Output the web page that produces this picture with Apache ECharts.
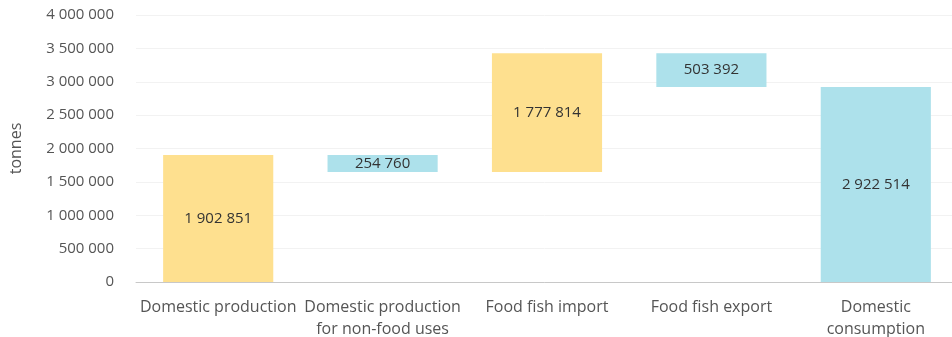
<!DOCTYPE html>
<html>
<head>
<meta charset="utf-8">
<script src="https://cdn.jsdelivr.net/npm/echarts@6/dist/echarts.min.js"></script>
<style>
  html, body { margin: 0; padding: 0; background: #ffffff; }
  #chart { width: 952px; height: 337px; }
</style>
</head>
<body>
<div id="chart"></div>
<script>
// Fish balance, tonnes
const categories = [
  'Domestic production',
  'Domestic production\nfor non-food uses',
  'Food fish import',
  'Food fish export',
  'Domestic\nconsumption'
];
const amounts = [1902851, 254760, 1777814, 503392, 2922514];
// +1 adds to the running total, -1 removes from it, 0 is a total bar from zero
const steps = [1, -1, 1, -1, 0];
const yTicks = { min: 0, max: 4000000, interval: 500000 };

const YELLOW = '#fee08f';
const BLUE = '#ade1eb';

// floating base for each bar of the waterfall
const bases = [];
let running = 0;
amounts.forEach((v, i) => {
  if (steps[i] === 1) { bases.push(running); running += v; }
  else if (steps[i] === -1) { running -= v; bases.push(running); }
  else { bases.push(0); }
});

const fmt = v => String(Math.round(v)).replace(/\B(?=(\d{3})+(?!\d))/g, ' ');

const chart = echarts.init(document.getElementById('chart'));
chart.setOption({
  animation: false,
  textStyle: { fontFamily: 'Open Sans' },
  grid: { left: 136, right: -6, top: 15, bottom: 55, outerBoundsMode: 'none', containLabel: false },
  xAxis: {
    type: 'category',
    data: categories,
    axisLine: { lineStyle: { color: '#c8c8c8', width: 1 } },
    axisTick: { show: false },
    axisLabel: { color: '#555555', fontSize: 16, margin: 14, lineHeight: 22, interval: 0 }
  },
  yAxis: {
    type: 'value',
    min: yTicks.min, max: yTicks.max, interval: yTicks.interval,
    name: 'tonnes',
    nameLocation: 'middle',
    nameGap: 112,
    nameTextStyle: { color: '#555555', fontSize: 16 },
    axisLine: { show: false },
    axisTick: { show: false },
    splitLine: { lineStyle: { color: '#f2f2f2', width: 1 } },
    axisLabel: { color: '#555555', fontSize: 15, margin: 22, formatter: fmt }
  },
  series: [
    {
      type: 'bar',
      stack: 'wf',
      data: bases,
      itemStyle: { color: 'transparent' },
      silent: true,
      barWidth: '67%'
    },
    {
      type: 'bar',
      stack: 'wf',
      barWidth: '67%',
      data: amounts.map((v, i) => ({
        value: v,
        itemStyle: { color: steps[i] === 1 ? YELLOW : BLUE }
      })),
      label: {
        show: true,
        position: 'inside',
        color: '#333333',
        fontSize: 15,
        formatter: p => fmt(p.value)
      }
    }
  ]
});
</script>
</body>
</html>
